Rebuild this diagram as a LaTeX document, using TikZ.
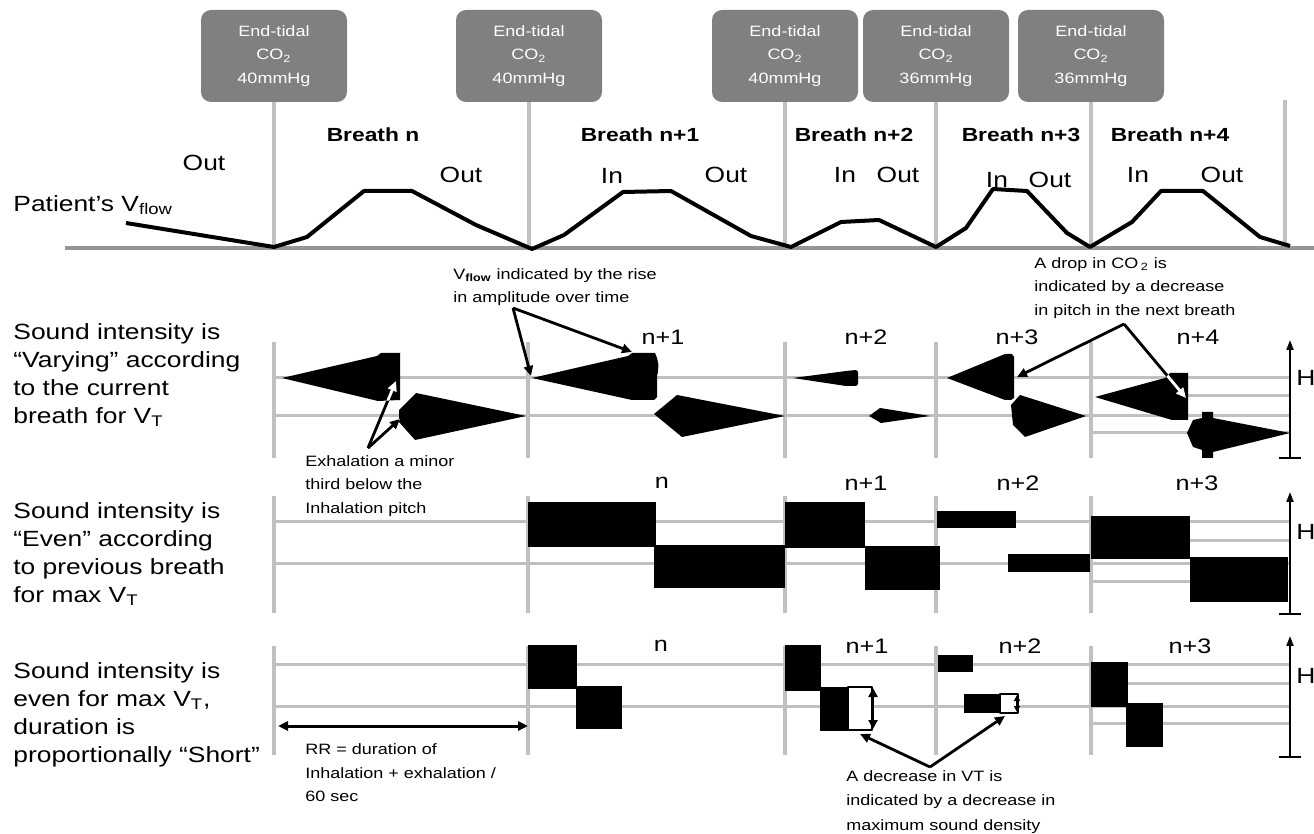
\documentclass[tikz,border=0pt]{standalone}
\usepackage{fontspec}
\setmainfont{Liberation Sans}[FakeStretch=1.2]
\usetikzlibrary{arrows.meta}
\definecolor{boxgray}{RGB}{128,128,128}
\definecolor{lgray}{RGB}{192,192,192}
\definecolor{ggray}{RGB}{150,150,150}
\begin{document}
\begin{tikzpicture}[x=0.5pt,y=-0.5pt,line join=round,
 co2box/.style={fill=boxgray, rounded corners=5pt, minimum width=73pt, minimum height=46pt, text=white, align=center, font=\fontsize{7.5}{11.75}\selectfont, inner sep=0pt},
 vline/.style={draw=lgray, line width=2pt},
 ground/.style={draw=ggray, line width=2pt},
 wave/.style={draw=black, line width=2pt, line join=round},
 wlab/.style={font=\fontsize{11}{13}\selectfont, inner sep=0pt},
 blab/.style={font=\fontsize{9.5}{11}\selectfont\bfseries, inner sep=0pt},
 lefttxt/.style={align=left, font=\fontsize{11}{14}\selectfont, inner sep=0pt, anchor=west},
 rlab/.style={font=\fontsize{10.5}{12}\selectfont, inner sep=0pt},
 anntxt/.style={align=left, font=\fontsize{7.5}{11.75}\selectfont, inner sep=0pt, anchor=west},
 staffv/.style={draw=lgray, line width=2pt},
 staffh/.style={draw=lgray, line width=1.5pt},
 snd/.style={fill=black},
 annarrow/.style={draw=black, line width=1.4pt, -{Triangle[length=5pt,width=4.5pt]}},
 inarrow/.style={draw=white, line width=1.4pt, -{Triangle[length=5pt,width=4.5pt]}},
 hzaxis/.style={draw=black, line width=1pt, -{Triangle[length=5pt,width=3.5pt]}},
 hz/.style={font=\fontsize{11}{13}\selectfont, inner sep=0pt, anchor=west},
]
\useasboundingbox (0,0) rectangle (1314,834);
\fill[white] (0,0) rectangle (1314,834);

% ---------- top: CO2 boxes and breath markers ----------
\foreach \n/\x/\v in {b1/274/40, b2/529/40, b3/785/40, b4/936/36, b5/1091/36}{
  \node[co2box] (\n) at (\x,56) {End-tidal\\CO\textsubscript{2}\\\v mmHg};
  \coordinate (\n g) at (\x,248);
  \draw[vline] (\n.south) -- (\n g);
}
\coordinate (t6) at (1285,100);
\coordinate (g6) at (1285,248);
\draw[vline] (t6) -- (g6);

\coordinate (gl) at (65,248);
\coordinate (gr) at (1314,248);
\draw[ground] (gl) -- (gr);

\draw[wave] (126,223) -- (274,247) -- (307,237) -- (364,191) -- (412,191) -- (476,225) -- (532,249) -- (564,235) -- (623,192) -- (671,191) -- (751,236) -- (791,247) -- (841,222) -- (879,220) -- (936,247) -- (966,228) -- (993,189) -- (1027,191) -- (1067,233) -- (1090,247) -- (1132,222) -- (1161,191) -- (1203,191) -- (1260,237) -- (1290,246);

\node[wlab, anchor=west] (pv) at (13,205) {Patient's V\textsubscript{flow}};
\node[wlab] (o0) at (204,163) {Out};
\node[blab] (br0) at (373,135) {Breath n};
\node[wlab] (o1) at (461,175) {Out};
\node[wlab] (i2) at (612,176) {In};
\node[blab] (br1) at (640,135) {Breath n+1};
\node[wlab] (o2) at (726,175) {Out};
\node[blab] (br2) at (854,135) {Breath n+2};
\node[wlab] (i3) at (845,175) {In};
\node[wlab] (o3) at (898,175) {Out};
\node[blab] (br3) at (1021,135) {Breath n+3};
\node[wlab] (i4) at (997,180) {In};
\node[wlab] (o4) at (1050,180) {Out};
\node[blab] (br4) at (1170,135) {Breath n+4};
\node[wlab] (i5) at (1138,175) {In};
\node[wlab] (o5) at (1222,175) {Out};

% ---------- left labels ----------
\node[lefttxt] (lab1) at (13,375) {Sound intensity is\\“Varying” according\\to the current\\breath for V\textsubscript{T}};
\node[lefttxt] (lab2) at (13,554) {Sound intensity is\\“Even” according\\to previous breath\\for max V\textsubscript{T}};
\node[lefttxt] (lab3) at (13,715) {Sound intensity is\\even for max V\textsubscript{T},\\duration is\\proportionally “Short”};

% ---------- row 1: varying ----------
\foreach \x in {274,528,785,936,1091}{\draw[staffv] (\x,342) -- (\x,458);}
\draw[staffh] (274,378) -- (1290,378);
\draw[staffh] (274,416) -- (1290,416);
\draw[staffh] (1184,396) -- (1290,396);
\draw[staffh] (1091,433) -- (1290,433);

\fill[snd] (282,378) -- (377,356) -- (381,353) -- (400,353) -- (400,400) -- (378,401) -- cycle;
\fill[snd] (399,410) -- (416,393) -- (526,416) -- (415,440) -- (399,422) -- cycle;
\fill[snd] (532,378) -- (628,356) -- (632,353) -- (655,353) to[bend left=20] (657,376) -- (657,397) -- (654,400) -- (632,400) -- cycle;
\fill[snd] (654,414) -- (677,395) -- (785,416) -- (682,437) -- cycle;
\fill[snd] (793,378) -- (846,371) -- (856,370) -- (858,372) -- (858,384) -- (856,386) -- (846,386) -- cycle;
\fill[snd] (869,416) -- (880,408) -- (930,416) -- (881,423) -- cycle;
\fill[snd] (947,378) -- (1005,354) -- (1012,354) -- (1014,357) -- (1014,398) -- (1011,400) -- (1005,400) -- cycle;
\fill[snd] (1011,405) -- (1020,395) -- (1086,416) -- (1025,437) -- (1013,425) -- cycle;
\fill[snd] (1095,397) -- (1165,378) -- (1170,373) -- (1188,373) -- (1188,420) -- (1172,420) -- cycle;
\fill[snd] (1187,433) -- (1193,420) -- (1202,418) -- (1202,412) -- (1213,412) -- (1213,418) -- (1290,433) -- (1213,452) -- (1213,458) -- (1202,458) -- (1202,450) -- (1193,447) -- cycle;

\node[rlab] (r1a) at (663,337) {n+1};
\node[rlab] (r1b) at (866,337) {n+2};
\node[rlab] (r1c) at (1017,337) {n+3};
\node[rlab] (r1d) at (1198,337) {n+4};

\coordinate (ax1b) at (1290,458);
\coordinate (ax1t) at (1290,340);
\draw[hzaxis] (ax1b) -- (ax1t);
\draw[black, line width=1pt] (1279,458) -- (1301,458);
\node[hz] (hz1) at (1296,378) {Hz};

% ---------- row 2: even ----------
\foreach \x in {274,528,785,936,1091}{\draw[staffv] (\x,496) -- (\x,613);}
\draw[staffh] (274,522) -- (1290,522);
\draw[staffh] (274,564) -- (1290,564);
\draw[staffh] (1190,541) -- (1290,541);
\draw[staffh] (1091,582) -- (1190,582);

\fill[snd] (528,502) rectangle (656,547);
\fill[snd] (654,545) rectangle (785,588);
\fill[snd] (785,502) rectangle (865,548);
\fill[snd] (865,546) rectangle (940,590);
\fill[snd] (937,511) rectangle (1016,528);
\fill[snd] (1008,554) rectangle (1090,572);
\fill[snd] (1091,516) rectangle (1190,559);
\fill[snd] (1190,557) rectangle (1288,602);

\node[rlab] (r2a) at (662,483) {n};
\node[rlab] (r2b) at (866,483) {n+1};
\node[rlab] (r2c) at (1018,483) {n+2};
\node[rlab] (r2d) at (1197,483) {n+3};

\coordinate (ax2b) at (1290,614);
\coordinate (ax2t) at (1290,492);
\draw[hzaxis] (ax2b) -- (ax2t);
\draw[black, line width=1pt] (1279,614) -- (1301,614);
\node[hz] (hz2) at (1296,532) {Hz};

% ---------- row 3: short ----------
\foreach \x in {274,528,785,936,1091}{\draw[staffv] (\x,646) -- (\x,755);}
\draw[staffh] (274,665) -- (1290,665);
\draw[staffh] (274,706) -- (1290,706);
\draw[staffh] (1128,683) -- (1290,683);
\draw[staffh] (1091,723) -- (1290,723);

\fill[snd] (528,645) rectangle (577,689);
\fill[snd] (576,686) rectangle (622,729);
\fill[snd] (785,645) rectangle (821,691);
\filldraw[fill=black, draw=black, line width=0.4pt] (820,687) rectangle (848,730);
\filldraw[fill=white, draw=black, line width=0.6pt] (848,687) rectangle (872,730);
\fill[snd] (938,655) rectangle (973,672);
\fill[snd] (964,694) rectangle (1000,713);
\filldraw[fill=white, draw=black, line width=0.6pt] (1000,694) rectangle (1018,713);
\fill[snd] (1091,662) rectangle (1128,707);
\fill[snd] (1126,703) rectangle (1163,747);

\coordinate (d1t) at (873,688);
\coordinate (d1b) at (873,729);
\draw[black, line width=1.3pt, {Triangle[length=4.5pt,width=4.5pt]}-{Triangle[length=4.5pt,width=4.5pt]}] (d1t) -- (d1b);
\coordinate (d2t) at (1017,695);
\coordinate (d2b) at (1017,712);
\draw[black, line width=0.8pt, {Triangle[length=3pt,width=3pt]}-{Triangle[length=3pt,width=3pt]}] (d2t) -- (d2b);

\node[rlab] (r3a) at (661,646) {n};
\node[rlab] (r3b) at (867,646) {n+1};
\node[rlab] (r3c) at (1020,646) {n+2};
\node[rlab] (r3d) at (1190,646) {n+3};

\coordinate (ax3b) at (1290,757);
\coordinate (ax3t) at (1290,636);
\draw[hzaxis] (ax3b) -- (ax3t);
\draw[black, line width=1pt] (1279,757) -- (1301,757);
\node[hz] (hz3) at (1296,676) {Hz};

\coordinate (rrl) at (278,726);
\coordinate (rrr) at (528,726);
\draw[black, line width=1.5pt, {Triangle[length=5pt,width=4.5pt]}-{Triangle[length=5pt,width=4.5pt]}] (rrl) -- (rrr);

% ---------- annotations ----------
\node[anntxt] (ann1) at (453,287) {V\textsubscript{\textbf{flow}} indicated by the rise\\in amplitude over time};
\coordinate (a1s) at (513,308);
\coordinate (a1e1) at (531,376);
\coordinate (a1e2) at (632,352);
\draw[annarrow] (a1s) -- (a1e1);
\draw[annarrow] (a1s) -- (a1e2);

\node[anntxt] (ann2) at (305,486) {Exhalation a minor\\third below the\\Inhalation pitch};
\coordinate (a2s) at (368,448);
\coordinate (a2e1) at (396,381);
\coordinate (a2e2) at (400,419);
\draw[annarrow] (a2s) -- (a2e1);
\draw[annarrow] (a2s) -- (a2e2);
\begin{scope}
  \clip (282,378) -- (377,356) -- (381,353) -- (400,353) -- (400,400) -- (378,401) -- cycle;
  \draw[inarrow] (a2s) -- (a2e1);
\end{scope}
\begin{scope}
  \clip (399,410) -- (416,393) -- (526,416) -- (415,440) -- (399,422) -- cycle;
  \draw[inarrow] (a2s) -- (a2e2);
\end{scope}

\node[anntxt] (ann3) at (1034,288) {A drop in CO\,\textsubscript{2} is\\indicated by a decrease\\in pitch in the next breath};
\coordinate (a3s) at (1124,324);
\coordinate (a3e1) at (1017,377);
\coordinate (a3e2) at (1186,398);
\draw[annarrow] (a3s) -- (a3e1);
\draw[annarrow] (a3s) -- (a3e2);
\begin{scope}
  \clip (947,378) -- (1005,354) -- (1012,354) -- (1014,357) -- (1014,398) -- (1011,400) -- (1005,400) -- cycle;
  \draw[inarrow] (a3s) -- (a3e1);
\end{scope}
\begin{scope}
  \clip (1095,397) -- (1165,378) -- (1170,373) -- (1188,373) -- (1188,420) -- (1172,420) -- cycle;
  \draw[inarrow] (a3s) -- (a3e2);
\end{scope}

\node[anntxt, font=\fontsize{7.5}{12.25}\selectfont] (ann4) at (846,802) {A decrease in VT is\\indicated by a decrease in\\maximum sound density};
\coordinate (a4s) at (930,767);
\coordinate (a4e1) at (860,734);
\coordinate (a4e2) at (1005,716);
\draw[annarrow] (a4s) -- (a4e1);
\draw[annarrow] (a4s) -- (a4e2);

\node[anntxt] (ann5) at (305,773) {RR = duration of\\Inhalation + exhalation /\\60 sec};
\end{tikzpicture}
\end{document}
